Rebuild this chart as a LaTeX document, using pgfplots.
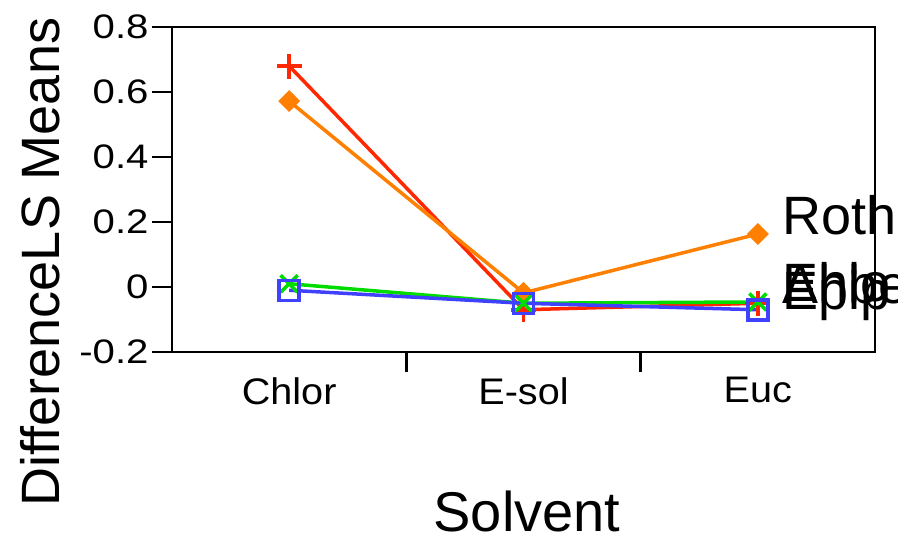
\documentclass[border=0pt]{standalone}
\usepackage{fontspec}
\setmainfont{Liberation Sans}
\newfontfamily\ytickfont[FakeStretch=1.18]{Liberation Sans}
\newfontfamily\xtickfont[FakeStretch=1.07]{Liberation Sans}
\usepackage{pgfplots}
\pgfplotsset{compat=1.18}
\definecolor{cred}{RGB}{255,40,0}
\definecolor{corange}{RGB}{255,128,0}
\definecolor{cgreen}{RGB}{0,220,0}
\definecolor{cblue}{RGB}{64,64,255}
\begin{document}
\begin{tikzpicture}
\begin{axis}[
  scale only axis, width=703bp, height=325bp,
  xmin=-0.5, xmax=2.5, ymin=-0.2, ymax=0.8,
  clip=false,
  axis line style={line width=2.5bp, black},
  tick pos=left, tick align=outside,
  major tick length=20bp,
  tick style={line width=2.5bp, black},
  xtick={0.5,1.5}, xticklabels={},
  extra x ticks={0,1,2}, extra x tick labels={Chlor,E-sol,Euc},
  extra x tick style={major tick length=0pt, tick style={draw=none}},
  xticklabel style={font=\xtickfont\fontsize{37bp}{37bp}\selectfont, yshift=-22bp},
  ytick={-0.2,0,0.2,0.4,0.6,0.8}, yticklabels={-0.2,0,0.2,0.4,0.6,0.8},
  yticklabel style={font=\ytickfont\fontsize{34bp}{34bp}\selectfont},
  ylabel={DifferenceLS Means},
  ylabel style={at={(rel axis cs:-0.1878,0.277)}, anchor=center, font=\fontsize{54bp}{54bp}\selectfont},
  xlabel={Solvent},
  xlabel style={at={(rel axis cs:0.505,-0.49)}, anchor=center, font=\fontsize{56bp}{56bp}\selectfont},
]
\addplot[color=cred, line width=3.5bp, mark=+, mark size=12.5bp, mark options={line width=3.5bp}]
  coordinates {(0,0.68) (1,-0.07) (2,-0.05)};
\addplot[color=corange, line width=3.5bp, mark=square*, mark size=6bp, mark options={rotate=45}]
  coordinates {(0,0.572) (1,-0.018) (2,0.163)};
\addplot[color=cgreen, line width=3.5bp, mark=x, mark size=12bp, mark options={line width=3.5bp}]
  coordinates {(0,0.01) (1,-0.05) (2,-0.046)};
\addplot[color=cblue, line width=3.5bp, mark=square, mark size=10bp, mark options={line width=3.5bp}]
  coordinates {(0,-0.01) (1,-0.05) (2,-0.07)};
\coordinate (lR) at (axis cs:2,0.163);
\coordinate (lA) at (axis cs:2,-0.05);
\coordinate (lE) at (axis cs:2,-0.046);
\coordinate (lP) at (axis cs:2,-0.07);
\end{axis}
\begin{scope}[every node/.style={anchor=base west, inner sep=0pt, font=\fontsize{54bp}{54bp}\selectfont, xshift=24bp}]
\node at (lR) {Roth};
\node at (lA) {Ahbe};
\node at (lE) {Ehlo};
\node at (lP) {Epip};
\end{scope}
\pgfresetboundingbox
\path[use as bounding box] ([shift={(-172bp,-185bp)}]current axis.south west) rectangle ([shift={(23bp,27bp)}]current axis.north east);
\end{tikzpicture}
\end{document}
